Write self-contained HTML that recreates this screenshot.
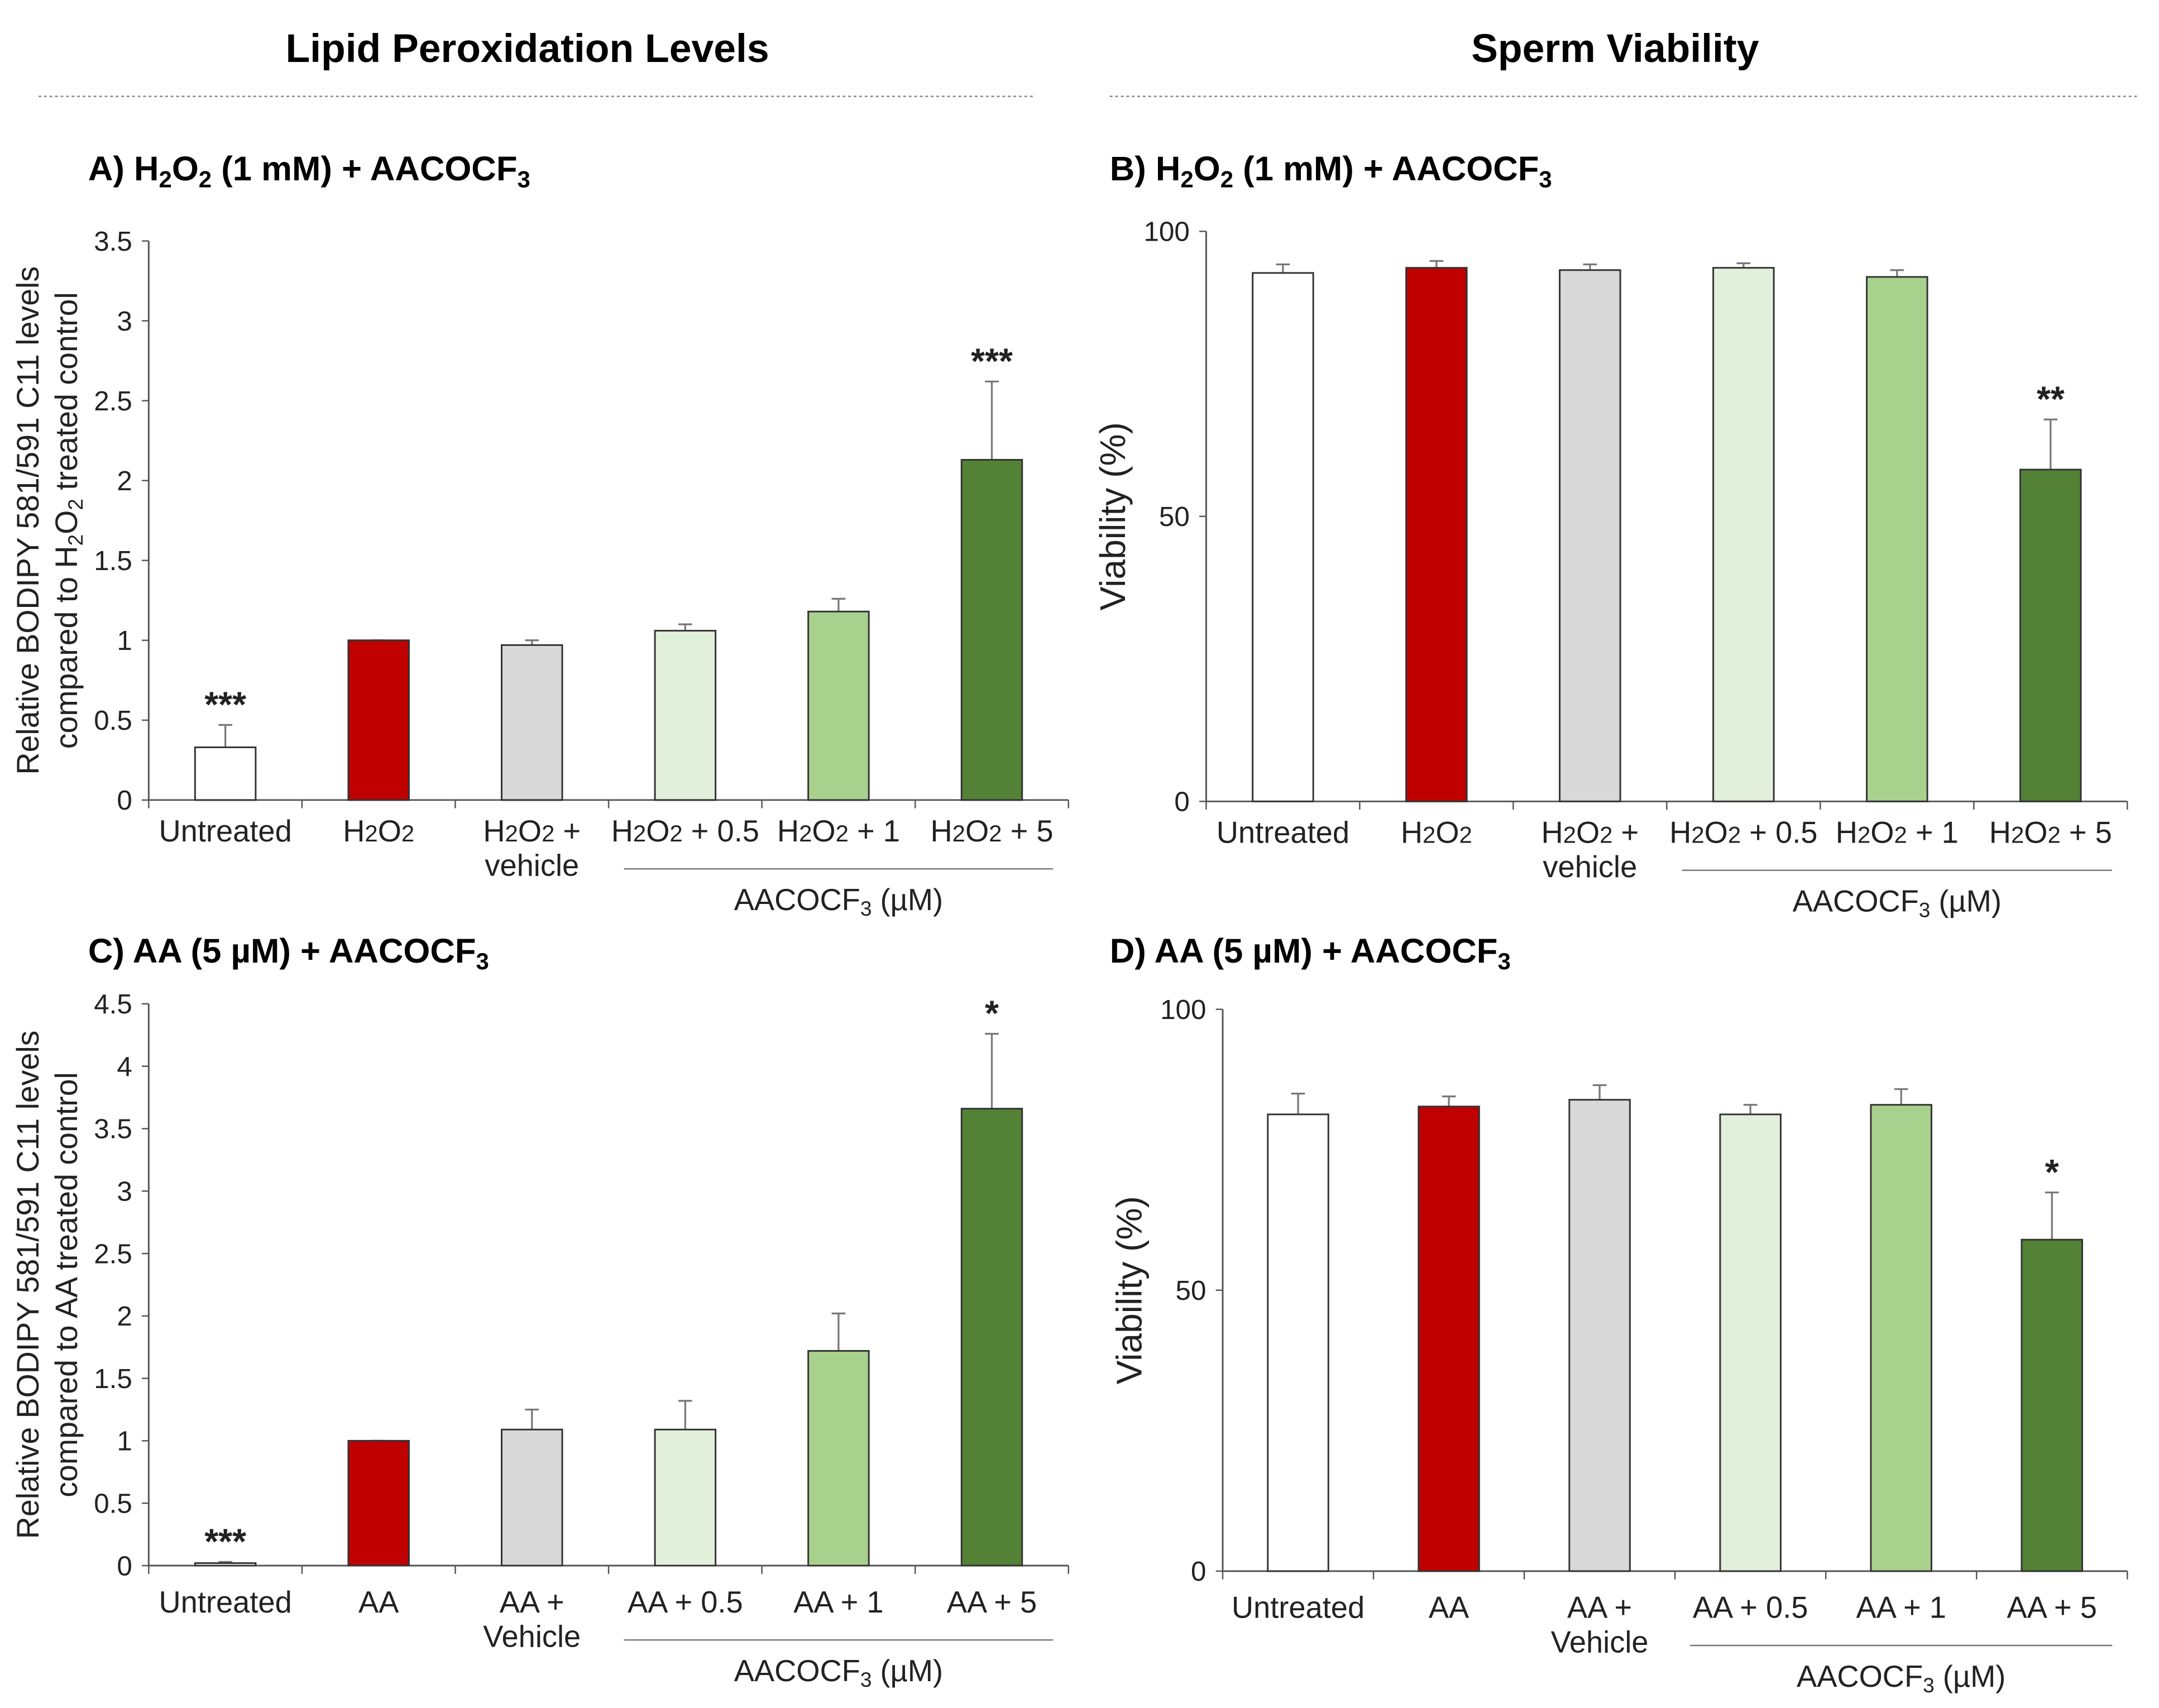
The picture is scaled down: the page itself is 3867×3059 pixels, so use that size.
<!DOCTYPE html>
<html><head><meta charset="utf-8"><style>
html,body{margin:0;padding:0;background:#fff}
svg{display:block;font-family:"Liberation Sans",Arial,sans-serif}
</style></head><body>
<svg id="fig" width="3867" height="3059" viewBox="0 0 1568 1240.4" preserveAspectRatio="none" xmlns="http://www.w3.org/2000/svg">
<text x="383" y="45" font-size="29" font-weight="bold" text-anchor="middle">Lipid Peroxidation Levels</text>
<text x="1173" y="45" font-size="29" font-weight="bold" text-anchor="middle">Sperm Viability</text>
<line x1="28" y1="70" x2="750" y2="70" stroke="#888" stroke-dasharray="2,2"/>
<line x1="806" y1="70" x2="1552" y2="70" stroke="#888" stroke-dasharray="2,2"/>
<text x="64" y="131" font-size="25" font-weight="bold">A) H<tspan font-size="17" dy="5">2</tspan><tspan dy="-5">O</tspan><tspan font-size="17" dy="5">2</tspan><tspan dy="-5"> (1 mM) + AACOCF</tspan><tspan font-size="17" dy="5">3</tspan></text>
<text x="806" y="131" font-size="25" font-weight="bold">B) H<tspan font-size="17" dy="5">2</tspan><tspan dy="-5">O</tspan><tspan font-size="17" dy="5">2</tspan><tspan dy="-5"> (1 mM) + AACOCF</tspan><tspan font-size="17" dy="5">3</tspan></text>
<text x="64" y="699" font-size="25" font-weight="bold">C) AA (5 µM) + AACOCF<tspan font-size="17" dy="5">3</tspan></text>
<text x="806" y="699" font-size="25" font-weight="bold">D) AA (5 µM) + AACOCF<tspan font-size="17" dy="5">3</tspan></text>
<g id="charts"></g>
</svg>
<script>
const colors = ["#ffffff","#c00000","#d9d9d9","#e2efda","#a9d18e","#538135"];
const catsH = [["Untreated"],["H2O2"],["H2O2 +","vehicle"],["H2O2 + 0.5"],["H2O2 + 1"],["H2O2 + 5"]];
const catsA = [["Untreated"],["AA"],["AA +","Vehicle"],["AA + 0.5"],["AA + 1"],["AA + 5"]];
const valsA = [0.33, 1.0, 0.97, 1.06, 1.18, 2.13];
const errA = [0.47, 1.0, 1.0, 1.10, 1.26, 2.62];
const sigA = ["***","","","","","***"];
const ticksA = [0,0.5,1,1.5,2,2.5,3,3.5];
const valsB = [92.7, 93.6, 93.2, 93.6, 92.0, 58.2];
const errB = [94.2, 94.8, 94.2, 94.4, 93.2, 67.0];
const sigB = ["","","","","","**"];
const ticksB = [0,50,100];
const valsC = [0.02, 1.0, 1.09, 1.09, 1.72, 3.66];
const errC = [0.03, 1.0, 1.25, 1.32, 2.02, 4.26];
const sigC = ["***","","","","","*"];
const ticksC = [0,0.5,1,1.5,2,2.5,3,3.5,4,4.5];
const valsD = [81.3, 82.7, 83.9, 81.3, 83.0, 59.0];
const errD = [85.0, 84.5, 86.5, 83.0, 85.8, 67.4];
const sigD = ["","","","","","*"];
const ticksD = [0,50,100];

const NS="http://www.w3.org/2000/svg";
const root=document.getElementById('charts');
function mk(tag,attrs,parent){const e=document.createElementNS(NS,tag);for(const k in attrs)e.setAttribute(k,attrs[k]);(parent||root).appendChild(e);return e;}
function labelText(el,s){
  const parts=s.split(/(2(?=O)|(?<=O)2)/);
  parts.forEach(p=>{if(!p)return;const t=document.createElementNS(NS,'tspan');
    if(p==="2"){t.setAttribute('font-size','17');}
    t.textContent=p;el.appendChild(t);});
}
function chart(o){
  const g=mk('g',{});
  
  
  const y=v=>o.y0-(v-o.min)/(o.max-o.min)*(o.y0-o.ytop);
  const w=(o.xend-o.x0)/6;
  const xc=i=>o.x0+w*(i+0.5);
  const ax=mk('line',{x1:o.x0,y1:o.ytop,x2:o.x0,y2:o.y0,stroke:'#555','stroke-width':1.2},g);
  
  const xa=mk('line',{x1:o.x0,y1:o.y0,x2:o.xend,y2:o.y0,stroke:'#555','stroke-width':1.2},g);
  
  o.ticks.forEach(t=>{
    const l=mk('line',{x1:o.x0-5,y1:y(t),x2:o.x0,y2:y(t),stroke:'#555'},g);
    
    const tx=mk('text',{x:o.x0-12,y:y(t)+7,'font-size':20,'text-anchor':'end',fill:'#222'},g);
    
    tx.textContent=String(t);
  });
  for(let i=0;i<=6;i++){const l=mk('line',{x1:o.x0+w*i,y1:o.y0,x2:o.x0+w*i,y2:o.y0+6,stroke:'#555'},g);
    }
  o.vals.forEach((v,i)=>{
    const cx=xc(i);
    const el=mk('line',{x1:cx,y1:y(v),x2:cx,y2:y(o.err[i]),stroke:'#777','stroke-width':1.3},g);
    
    const cap=mk('line',{x1:cx-5,y1:y(o.err[i]),x2:cx+5,y2:y(o.err[i]),stroke:'#777','stroke-width':1.3},g);
    
    const b=mk('rect',{x:cx-22,y:y(v),width:44,height:o.y0-y(v),fill:colors[i],stroke:'#333','stroke-width':1.2},g);
    
    if(o.sig[i]){const s=mk('text',{x:cx,y:y(o.err[i])-6,'font-size':26,'text-anchor':'middle','font-weight':'bold',fill:'#222'},g);
      
      s.textContent=o.sig[i];}
    o.cats[i].forEach((line,k)=>{
      const t=mk('text',{x:cx,y:o.y0+o.ly+k*25,'font-size':22,'text-anchor':'middle',fill:'#222'},g);
      
      labelText(t,line);
    });
  });
  const ul=mk('line',{x1:o.x0+w*3.1,y1:o.y0+o.ly+20,x2:o.x0+w*5.9,y2:o.y0+o.ly+20,stroke:'#777'},g);
  
  const at=mk('text',{x:o.x0+w*4.5,y:o.y0+o.ly+50,'font-size':22,'text-anchor':'middle',fill:'#222'},g);
  
  at.innerHTML='AACOCF<tspan font-size="15" dy="4">3</tspan><tspan dy="-4"> (µM)</tspan>';
  const cy=(o.y0+o.ytop)/2;
  o.title.forEach((line,k)=>{
    const t=mk('text',{x:0,y:0,'font-size':o.tfs,'text-anchor':'middle',fill:'#222',transform:`translate(${o.tx+k*28},${cy}) rotate(-90)`},g);
    
    t.innerHTML=line;
  });
}
chart({name:'chart-a',x0:108,xend:776,y0:581,ytop:175,min:0,max:3.5,ticks:ticksA,vals:valsA,err:errA,sig:sigA,cats:catsH,ly:30,tx:28,tfs:22.5,
  title:['Relative BODIPY 581/591 C11 levels','compared to H<tspan font-size="15" dy="4">2</tspan><tspan dy="-4">O</tspan><tspan font-size="15" dy="4">2</tspan><tspan dy="-4"> treated control</tspan>']});
chart({name:'chart-b',x0:876,xend:1545,y0:582,ytop:168,min:0,max:100,ticks:ticksB,vals:valsB,err:errB,sig:sigB,cats:catsH,ly:30,tx:817,tfs:26,
  title:['Viability (%)']});
chart({name:'chart-c',x0:108,xend:776,y0:1137,ytop:729,min:0,max:4.5,ticks:ticksC,vals:valsC,err:errC,sig:sigC,cats:catsA,ly:34,tx:28,tfs:22.5,
  title:['Relative BODIPY 581/591 C11 levels','compared to AA treated control']});
chart({name:'chart-d',x0:888,xend:1545,y0:1141,ytop:733,min:0,max:100,ticks:ticksD,vals:valsD,err:errD,sig:sigD,cats:catsA,ly:34,tx:829,tfs:26,
  title:['Viability (%)']});
</script>
</body></html>
